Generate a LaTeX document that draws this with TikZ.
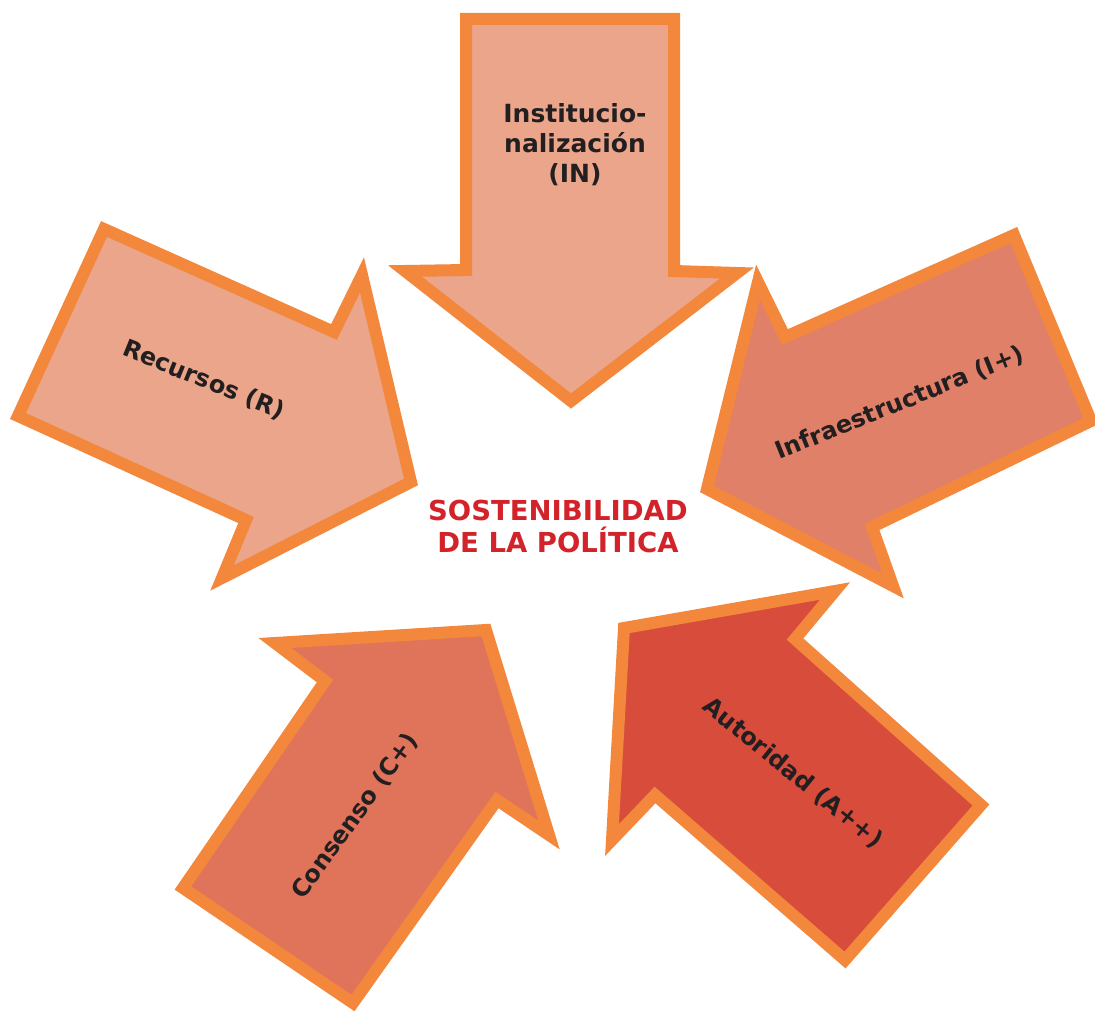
\documentclass[tikz,border=0pt]{standalone}
\usepackage{fontspec}
\setmainfont{DejaVu Sans}
\definecolor{borde}{RGB}{243,135,60}
\definecolor{claro}{RGB}{234,165,138}
\definecolor{medio}{RGB}{225,128,105}
\definecolor{consen}{RGB}{224,116,91}
\definecolor{fuerte}{RGB}{216,76,60}
\definecolor{texto}{RGB}{35,31,32}
\definecolor{titulo}{RGB}{210,35,42}

\begin{document}
\begin{tikzpicture}[x=1pt, y=-1pt, line width=12pt, line join=miter,
		flecha/.style={draw=borde},
		etiqueta/.style={font=\bfseries\fontsize{25}{30}\selectfont, text=texto, align=center},
		girada/.style={etiqueta, font=\bfseries\fontsize{24}{30}\selectfont}]
		\useasboundingbox (0,0) rectangle (1095,1011);
		
		% flechas hacia el centro
		\draw[flecha, fill=claro] (466,19) -- (674,19) -- (674,271) -- (737,273) -- (571,401) -- (405,271) -- (466,270) -- cycle;
		\draw[flecha, fill=claro] (104,229) -- (334,332) -- (362,275) -- (411,482) -- (222,578) -- (246,520) -- (18,416) -- cycle;
		\draw[flecha, fill=medio] (758,282) -- (785,337) -- (1014,235) -- (1091,421) -- (872,527) -- (893,586) -- (707,489) -- cycle;
		\draw[flecha, fill=consen] (275,643) -- (486,630) -- (549,835) -- (497,800) -- (353,1003) -- (183,888) -- (325,681) -- cycle;
		\draw[flecha, fill=fuerte] (624,628) -- (835,591) -- (795,639) -- (981,805) -- (845,960) -- (655,795) -- (612,840) -- cycle;
		
		\node[etiqueta] (in) at (575,145) {Institucio-\\nalización\\(IN)};
		\node[girada, rotate=-22] (rec) at (204,380) {Recursos (R)};
		\node[girada, rotate=22] (inf) at (900,403) {Infraestructura (I+)};
		\node[girada, rotate=54] (con) at (355,816) {Consenso (C+)};
		\node[girada, rotate=-39] (aut) at (793,773) {Autoridad (A++)};
		
		\node[font=\bfseries\fontsize{27.5}{32}\selectfont, text=titulo, align=center] (sost) at (558,526) {SOSTENIBILIDAD\\DE LA POLÍTICA};
	\end{tikzpicture}
\end{document}
